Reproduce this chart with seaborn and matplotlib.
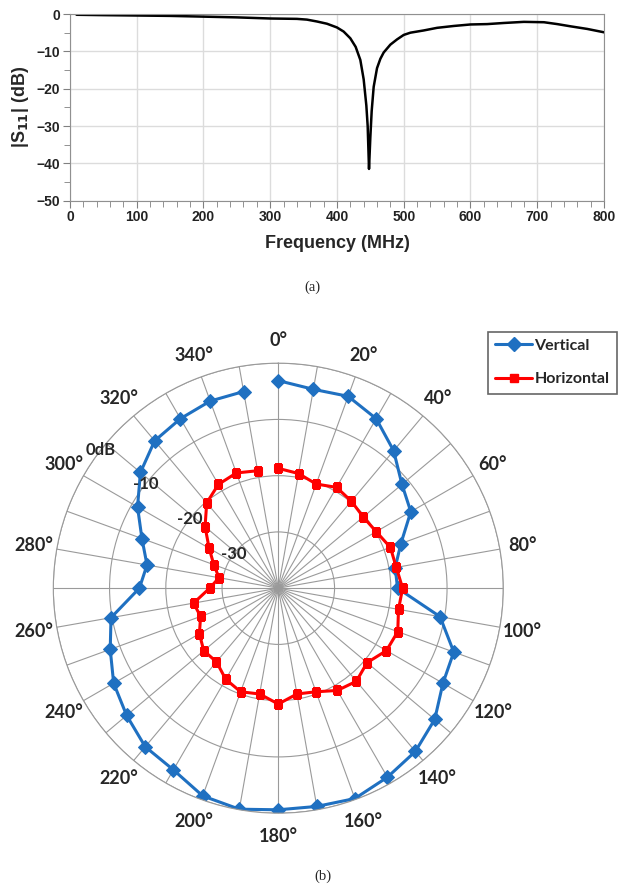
import numpy as np
import matplotlib
matplotlib.use("Agg")
import matplotlib.pyplot as plt
import seaborn as sns
from matplotlib.lines import Line2D

# ---- (a) return loss ----
freq_mhz = [10, 50, 100, 150, 200, 250, 300, 340, 355, 370, 385, 400, 410, 420,
            428, 435, 440, 444, 446, 448, 450, 452, 455, 460, 465, 470, 480, 490,
            500, 510, 530, 550, 575, 600, 625, 650, 680, 710, 730, 750, 775, 800]
s11_db = [-0.2, -0.3, -0.4, -0.5, -0.7, -0.9, -1.2, -1.3, -1.5, -2.0, -2.6, -3.6,
          -4.7, -6.5, -8.8, -12.3, -17.5, -24.5, -30.0, -41.5, -33.0, -26.0, -19.5,
          -14.5, -12.0, -10.3, -8.2, -6.8, -5.6, -5.0, -4.4, -3.7, -3.2, -2.8, -2.7,
          -2.4, -2.1, -2.2, -2.7, -3.3, -4.0, -4.9]

# ---- (b) radiation pattern ----
angles_deg = [0, 10, 20, 30, 40, 50, 60, 70, 80, 90, 100, 110, 120, 130, 140, 150,
              160, 170, 180, 190, 200, 210, 220, 230, 240, 250, 260, 270, 280, 290,
              300, 310, 320, 330, 340, 350]
vertical_db = [-3.1, -4.1, -3.7, -5.2, -8.1, -11.3, -12.8, -16.8, -18.9, -18.8,
               -10.8, -6.8, -6.2, -3.7, -2.1, -1.2, -0.2, -0.6, -0.6, -0.1, -0.7,
               -2.7, -3.2, -4.8, -6.2, -8.2, -9.8, -15.3, -16.3, -14.2, -11.1, -8.0,
               -5.8, -5.2, -4.6, -4.5]
horizontal_db = [-18.7, -19.3, -20.3, -19.3, -19.8, -20.3, -19.9, -18.8, -18.7,
                 -17.9, -18.3, -17.4, -17.8, -19.4, -18.4, -19.0, -20.4, -20.9,
                 -19.4, -20.9, -20.4, -21.3, -22.9, -22.7, -23.8, -25.3, -24.7,
                 -27.8, -29.3, -27.8, -25.8, -23.0, -20.2, -18.7, -18.2, -18.8]
ring_db = [-30, -20, -10, 0]
ring_labels = ["-30", "-20", "-10", "0dB"]

sns.set_style("white")
plt.rcParams["font.family"] = ["Liberation Sans", "DejaVu Sans"]

fig = plt.figure(figsize=(6.24, 8.93), dpi=100)

# top panel
ax1 = fig.add_axes([0.112, 0.7753, 0.856, 0.209])
sns.lineplot(x=freq_mhz, y=s11_db, ax=ax1, color="black", linewidth=1.8, sort=False)
ax1.set_xlim(0, 800)
ax1.set_ylim(-50, 0)
ax1.set_xticks(range(0, 801, 100))
ax1.set_xticks(range(0, 801, 20), minor=True)
ax1.set_yticks(range(-50, 1, 10))
ax1.set_yticks(range(-50, 1, 5), minor=True)
ax1.grid(True, which="major", color="#dcdcdc", linewidth=1.0)
for sp in ax1.spines.values():
    sp.set_color("#909090")
ax1.tick_params(which="both", direction="out", color="#808080", left=True, bottom=True)
ax1.tick_params(which="major", length=5, labelsize=10, pad=2, labelcolor="#222222")
ax1.tick_params(which="minor", length=4)
for lab in ax1.get_xticklabels() + ax1.get_yticklabels():
    lab.set_fontweight("bold")
ax1.set_xlabel("Frequency (MHz)", fontsize=13, fontweight="bold", labelpad=8)
ax1.set_ylabel(r"|S$_{\mathbf{11}}$| (dB)", fontsize=13, fontweight="bold", labelpad=4)
fig.text(0.5, 0.6786, "(a)", ha="center", va="center", fontsize=10.5,
         family="Liberation Serif")

# bottom panel
ax2 = fig.add_axes([0.0854, 0.0894, 0.7212, 0.5039], projection="polar")
ax2.set_theta_zero_location("N")
ax2.set_theta_direction(-1)

theta_v = np.deg2rad(angles_deg + angles_deg[:1])
sns.lineplot(x=theta_v, y=vertical_db + vertical_db[:1], ax=ax2, sort=False,
             color="#1f70c1", linewidth=2.2, marker="D", markersize=7,
             markeredgecolor="#1f70c1")
sns.lineplot(x=theta_v, y=horizontal_db + horizontal_db[:1], ax=ax2, sort=False,
             color="#ff0000", linewidth=2.2, marker="s", markersize=6,
             markeredgecolor="#ff0000")
ax2.set_ylim(-40, 0)
ax2.set_yticks(ring_db)
ax2.set_yticklabels([])
theta_labels = [f"{a}°" if a % 20 == 0 else "" for a in angles_deg]
ax2.set_thetagrids(angles_deg, theta_labels)
ax2.tick_params(axis="x", pad=6)
for lab in ax2.get_xticklabels():
    lab.set_family(["Lato", "DejaVu Sans"])
    lab.set_fontweight("bold")
    lab.set_fontsize(13)
ax2.grid(True, color="#9a9a9a", linewidth=0.8)
ax2.spines["polar"].set_color("#9a9a9a")
ax2.spines["polar"].set_linewidth(0.8)
for r, lab in zip(ring_db, ring_labels):
    ax2.text(np.deg2rad(308), r, lab, ha="center", va="center", fontsize=12,
             fontweight="bold", family=["Lato", "DejaVu Sans"])
ax2.set_xlabel("")
ax2.set_ylabel("")

handles = [
    Line2D([], [], color="#1f70c1", lw=2.2, marker="D", markersize=7),
    Line2D([], [], color="#ff0000", lw=2.2, marker="s", markersize=6),
]
leg = fig.legend(handles, ["Vertical", "Horizontal"], loc="upper right",
                 bbox_to_anchor=(0.988, 0.6286), frameon=True, fancybox=False,
                 edgecolor="#404040", handlelength=2.3, handletextpad=0.15,
                 labelspacing=1.2, borderpad=0.45, borderaxespad=0,
                 prop={"family": ["Lato", "DejaVu Sans"], "weight": "bold", "size": 11.5})
leg.get_frame().set_linewidth(1.2)
fig.text(0.517, 0.0183, "(b)", ha="center", va="center", fontsize=10.5,
         family="Liberation Serif")

fig.savefig("out.png", dpi=100)
